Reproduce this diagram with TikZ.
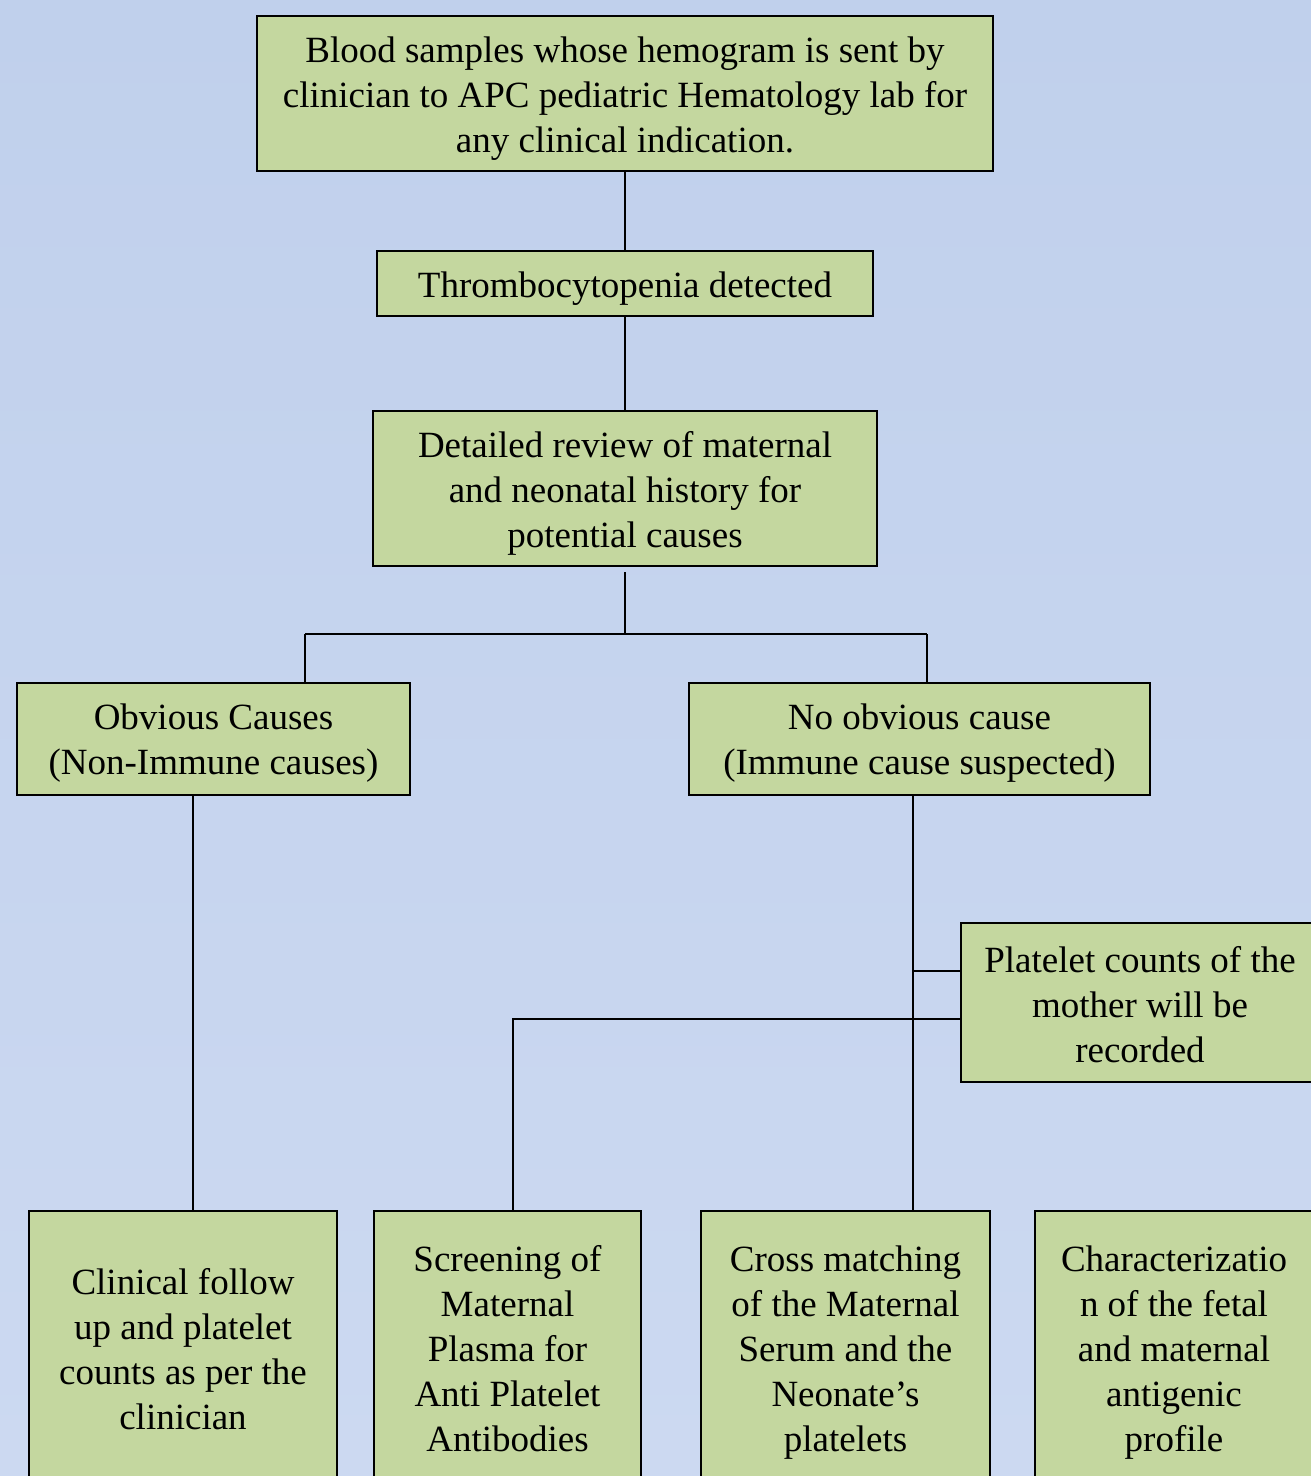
\documentclass[tikz,border=0pt]{standalone}
\usepackage{fontspec}
\setmainfont{Liberation Serif}
\definecolor{bgtop}{RGB}{192,208,236}
\definecolor{bgbot}{RGB}{204,217,241}
\definecolor{boxfill}{RGB}{196,215,159}
\begin{document}
\begin{tikzpicture}[x=1pt,y=-1pt,
  box/.style={draw=black,line width=2pt,fill=boxfill,inner sep=0pt},
  txt/.style={align=center,inner sep=0pt,font=\fontsize{37}{45}\selectfont},
  conn/.style={line width=2pt,draw=black}]
\useasboundingbox (0,0) rectangle (1311,1476);
\clip (0,0) rectangle (1311,1476);
\shade[top color=bgtop,bottom color=bgbot] (0,0) rectangle (1311,1476);

\node[box,minimum width=736pt,minimum height=155pt] (top) at (625,93.5) {};
\node[txt] at ([yshift=-5pt]top.center)
  {Blood samples whose hemogram is sent by\\clinician to APC pediatric Hematology lab for\\any clinical indication.};
\node[box,minimum width=496pt,minimum height=65pt] (thr) at (625,283.5) {};
\node[txt] at ([yshift=-5pt]thr.center) {Thrombocytopenia detected};
\node[box,minimum width=504pt,minimum height=155pt] (det) at (625,488.5) {};
\node[txt] at ([yshift=-5pt]det.center)
  {Detailed review of maternal\\and neonatal history for\\potential causes};
\node[box,minimum width=393pt,minimum height=112pt] (obv) at (213.5,739) {};
\node[txt] at ([yshift=-4pt]obv.center) {Obvious Causes\\(Non-Immune causes)};
\node[box,minimum width=461pt,minimum height=112pt] (noc) at (919.5,739) {};
\node[txt] at ([yshift=-4pt]noc.center) {No obvious cause\\(Immune cause suspected)};
\node[box,minimum width=359pt,minimum height=159pt] (plt) at (1140.5,1002.5) {};
\node[txt] at ([yshift=-2pt,xshift=-0.5pt]plt.center)
  {Platelet counts of the\\mother will be\\recorded};
\node[box,minimum width=308pt,minimum height=276pt] (cf) at (183,1349) {};
\node[txt] at (cf.center) {Clinical follow\\up and platelet\\counts as per the\\clinician};
\node[box,minimum width=267pt,minimum height=276pt] (sc) at (507.5,1349) {};
\node[txt] at (sc.center) {Screening of\\Maternal\\Plasma for\\Anti Platelet\\Antibodies};
\node[box,minimum width=289pt,minimum height=276pt] (cm) at (845.5,1349) {};
\node[txt] at ([yshift=-4pt]cm.center) {Cross matching\\of the Maternal\\Serum and the\\Neonate’s\\platelets};
\node[box,minimum width=278pt,minimum height=276pt] (ch) at (1174,1349) {};
\node[txt] at ([yshift=-4pt]ch.center) {Characterizatio\\n of the fetal\\and maternal\\antigenic\\profile};

\coordinate (j) at (625,634);
\coordinate (jl) at (305,634);
\coordinate (jr) at (927,634);
\coordinate (v1) at (193,0);
\coordinate (v2) at (913,0);
\coordinate (h1) at (913,971);
\coordinate (h2) at (513,1019);

\draw[conn] (top.south) -- (thr.north);
\draw[conn] (thr.south) -- (det.north);
\draw[conn] ([yshift=-5pt]det.south) -- (j);
\draw[conn] (jl) -- (jr);
\draw[conn] (jl) -- (jl |- obv.north);
\draw[conn] (jr) -- (jr |- noc.north);
\draw[conn] (v1 |- obv.south) -- (v1 |- cf.north);
\draw[conn] (v2 |- noc.south) -- (v2 |- cm.north);
\draw[conn] (h1) -- (h1 -| plt.west);
\draw[conn] (h2 -| plt.west) -- (h2) -- (h2 |- sc.north);
\end{tikzpicture}
\end{document}
